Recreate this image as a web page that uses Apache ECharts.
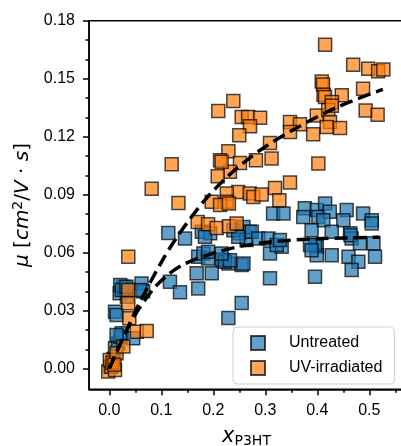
<!DOCTYPE html>
<html>
<head>
<meta charset="utf-8">
<script src="https://cdn.jsdelivr.net/npm/echarts@6/dist/echarts.min.js"></script>
<style>
  html, body { margin: 0; padding: 0; background: #fff; }
  #myChart { width: 401px; height: 446px; }
</style>
</head>
<body>
<div id="myChart"></div>
<script>
// 未处理样品 [x_P3HT, mu]
var untreated = [
    [0.002, 0.001], [0.008, 0.005], [0.011, 0.0105], [0.017, 0.013], [0.021, 0.0165],
    [0.024, 0.0183], [0.014, 0.0174], [0.046, 0.0157], [0.011, 0.0294], [0.014, 0.0278],
    [0.020, 0.039], [0.027, 0.0424], [0.034, 0.0372], [0.030, 0.0415], [0.021, 0.0432],
    [0.024, 0.0407], [0.033, 0.0424], [0.062, 0.0441], [0.065, 0.040], [0.059, 0.0407],
    [0.1135, 0.0702], [0.1456, 0.0673], [0.1167, 0.0449], [0.136, 0.0395], [0.168, 0.0493],
    [0.171, 0.0415], [0.171, 0.0579], [0.181, 0.0596], [0.190, 0.057], [0.197, 0.0493],
    [0.178, 0.0708], [0.194, 0.070], [0.184, 0.0682], [0.219, 0.0561], [0.229, 0.0544],
    [0.2546, 0.0536], [0.229, 0.0262], [0.2546, 0.034], [0.216, 0.0565], [0.251, 0.070],
    [0.2385, 0.0716], [0.258, 0.0733], [0.270, 0.0708], [0.264, 0.0665], [0.248, 0.0682],
    [0.2225, 0.0553], [0.232, 0.0561], [0.258, 0.0544], [0.274, 0.0708], [0.2865, 0.0673],
    [0.306, 0.0673], [0.309, 0.0596], [0.3315, 0.063], [0.322, 0.0639], [0.328, 0.0665],
    [0.309, 0.0467], [0.19, 0.0604], [0.216, 0.0596], [0.315, 0.0803], [0.335, 0.0803],
    [0.376, 0.083], [0.373, 0.0785], [0.399, 0.082], [0.402, 0.0785], [0.415, 0.0854],
    [0.424, 0.0811], [0.4115, 0.0768], [0.4565, 0.082], [0.450, 0.0768], [0.488, 0.0803],
    [0.5046, 0.0768], [0.389, 0.0716], [0.4277, 0.0708], [0.463, 0.070], [0.466, 0.0673],
    [0.464, 0.069], [0.399, 0.063], [0.399, 0.0587], [0.4277, 0.0587], [0.460, 0.0579],
    [0.479, 0.0553], [0.466, 0.051], [0.508, 0.0648], [0.482, 0.0648], [0.511, 0.0579],
    [0.3956, 0.0475], [0.3956, 0.064], [0.386, 0.0639], [0.389, 0.0613], [0.5046, 0.0751]
];

// 紫外照射样品 [x_P3HT, mu]
var uvIrradiated = [
    [-0.002, -0.0015], [0.004, 0.001], [0.011, -0.0007], [0.001, 0.0045], [0.006, 0.003],
    [0.014, 0.008], [0.010, 0.002], [0.027, 0.0114], [0.0365, 0.0407], [0.0365, 0.0338],
    [0.0385, 0.026], [0.053, 0.0191], [0.072, 0.0195], [0.0365, 0.0579],
    [0.0815, 0.093], [0.120, 0.1057], [0.133, 0.0857],
    [0.2096, 0.1333], [0.2385, 0.1384], [0.2546, 0.1302], [0.267, 0.1302], [0.290, 0.1298],
    [0.2706, 0.1254], [0.250, 0.1207], [0.309, 0.1167], [0.229, 0.1124], [0.213, 0.1078],
    [0.2513, 0.1064], [0.282, 0.1078], [0.312, 0.1087], [0.232, 0.1018], [0.2085, 0.0995],
    [0.216, 0.107], [0.248, 0.0914], [0.226, 0.0906], [0.226, 0.0863], [0.197, 0.0863],
    [0.213, 0.0846], [0.230, 0.0854], [0.270, 0.0906], [0.277, 0.0888], [0.293, 0.0901],
    [0.3187, 0.0935], [0.3475, 0.0963], [0.327, 0.0871], [0.170, 0.0759], [0.190, 0.0747],
    [0.2065, 0.0728], [0.230, 0.0737], [0.245, 0.0751], [0.402, 0.1061],
    [0.415, 0.1676], [0.469, 0.1572], [0.498, 0.1551], [0.517, 0.1539], [0.527, 0.1548],
    [0.4085, 0.1486], [0.411, 0.147], [0.488, 0.1448], [0.412, 0.1417], [0.4148, 0.1405],
    [0.447, 0.1414], [0.428, 0.1379], [0.493, 0.1336], [0.516, 0.1314], [0.399, 0.131],
    [0.421, 0.1338], [0.4245, 0.1276], [0.418, 0.125], [0.4437, 0.1245], [0.392, 0.1212],
    [0.3475, 0.1276], [0.3667, 0.1264], [0.3475, 0.1224], [0.428, 0.136]
];

// 拟合曲线
var fitUntreated = [
    [0, 0], [0.03, 0.018], [0.05, 0.028], [0.07, 0.036], [0.09, 0.0428], [0.115, 0.049],
    [0.14, 0.0535], [0.17, 0.057], [0.21, 0.0605], [0.26, 0.0637], [0.32, 0.0658],
    [0.40, 0.0672], [0.52, 0.068]
];
var fitUV = [
    [0, 0], [0.03, 0.018], [0.06, 0.035], [0.10, 0.055], [0.13, 0.068], [0.18, 0.086],
    [0.23, 0.1], [0.29, 0.113], [0.36, 0.1245], [0.44, 0.1355], [0.526, 0.1445]
];

var xTicks = [0, 0.1, 0.2, 0.3, 0.4, 0.5];
var xMinorTicks = [0.05, 0.15, 0.25, 0.35, 0.45, 0.55];
var yTicks = [0, 0.03, 0.06, 0.09, 0.12, 0.15, 0.18];
var yMinorTicks = [0.01, 0.02, 0.04, 0.05, 0.07, 0.08, 0.10, 0.11, 0.13, 0.14, 0.16, 0.17];

var xMin = -0.039, xMax = 0.5667;
var yMin = -0.0107, yMax = 0.18;
var fontFamily = "'Liberation Sans', Arial, sans-serif";

var chart = echarts.init(document.getElementById('myChart'));

var axisLineStyle = { color: '#000', width: 1.5 };
// 虚线拟合线样式
var fitLineStyle = { color: '#000', width: 3.5, type: [13, 6] };

chart.setOption({
    animation: false,
    grid: {
        left: 89, top: 20.7, width: 315, height: 368.6,
        outerBoundsMode: 'none',
        containLabel: false,
        show: true, borderColor: '#000', borderWidth: 1.5
    },
    legend: {
        data: ['Untreated', 'UV-irradiated'],
        orient: 'vertical',
        left: 233,
        top: 327,
        padding: [8, 12, 8, 17],
        itemWidth: 14,
        itemHeight: 14,
        itemGap: 9,
        icon: 'rect',
        borderColor: '#d0d0d0',
        borderWidth: 1,
        borderRadius: 4,
        backgroundColor: 'rgba(255,255,255,0.8)',
        textStyle: { fontSize: 16, color: '#000', fontFamily: fontFamily, padding: [0, 0, 0, 19] },
        z: 10
    },
    xAxis: [
        {
            type: 'value', min: xMin, max: xMax, position: 'bottom',
            axisLine: { show: true, onZero: false, lineStyle: axisLineStyle },
            axisTick: { show: true, length: 6, customValues: xTicks, lineStyle: axisLineStyle },
            axisLabel: {
                customValues: xTicks, margin: 13, fontSize: 16, color: '#000', fontFamily: fontFamily,
                formatter: function (v) { return v.toFixed(1) }
            },
            splitLine: { show: false },
            name: '{i|x}{s|P3HT}',
            nameLocation: 'middle',
            nameGap: 36,
            nameTextStyle: {
                rich: {
                    i: { fontSize: 21, fontStyle: 'italic', fontFamily: 'DejaVu Sans', color: '#000' },
                    s: { fontSize: 14, fontFamily: 'DejaVu Sans', color: '#000', padding: [9, 0, 0, 0] }
                }
            }
        },
        {
            type: 'value', min: xMin, max: xMax, position: 'bottom',
            axisLine: { show: false, onZero: false },
            axisTick: { show: true, length: 3.5, customValues: xMinorTicks, lineStyle: axisLineStyle },
            axisLabel: { show: false },
            splitLine: { show: false }
        }
    ],
    yAxis: [
        {
            type: 'value', min: yMin, max: yMax, position: 'left',
            axisLine: { show: true, onZero: false, lineStyle: axisLineStyle },
            axisTick: { show: true, length: 6, customValues: yTicks, lineStyle: axisLineStyle },
            axisLabel: {
                customValues: yTicks, margin: 14, fontSize: 16, color: '#000', fontFamily: fontFamily,
                formatter: function (v) { return v.toFixed(2) }
            },
            splitLine: { show: false },
            name: '{i|μ} [{i|cm}{sup|2}/{i|V} · {i|s}]',
            nameLocation: 'middle',
            nameRotate: 90,
            nameGap: 54,
            nameTextStyle: {
                fontSize: 20, fontFamily: 'DejaVu Sans', color: '#000',
                rich: {
                    i: { fontSize: 20, fontStyle: 'italic', fontFamily: 'DejaVu Sans', color: '#000' },
                    sup: { fontSize: 14, fontFamily: 'DejaVu Sans', color: '#000', padding: [0, 0, 9, 0] }
                }
            }
        },
        {
            type: 'value', min: yMin, max: yMax, position: 'left',
            axisLine: { show: false, onZero: false },
            axisTick: { show: true, length: 3.5, customValues: yMinorTicks, lineStyle: axisLineStyle },
            axisLabel: { show: false },
            splitLine: { show: false }
        }
    ],
    series: [
        {
            name: 'Untreated',
            type: 'scatter',
            symbol: 'rect',
            symbolSize: 13,
            itemStyle: { color: '#1f77b4', opacity: 0.7, borderColor: '#000', borderWidth: 1.5 },
            emphasis: { disabled: true },
            z: 2,
            data: untreated
        },
        {
            name: 'UV-irradiated',
            type: 'scatter',
            symbol: 'rect',
            symbolSize: 13,
            itemStyle: { color: '#ff7f0e', opacity: 0.7, borderColor: '#000', borderWidth: 1.5 },
            emphasis: { disabled: true },
            z: 2,
            data: uvIrradiated
        },
        {
            type: 'line',
            data: fitUntreated,
            smooth: 0.3,
            symbol: 'none',
            silent: true,
            z: 5,
            lineStyle: fitLineStyle
        },
        {
            type: 'line',
            data: fitUV,
            smooth: 0.3,
            symbol: 'none',
            silent: true,
            z: 5,
            lineStyle: fitLineStyle
        }
    ]
});
</script>
</body>
</html>
